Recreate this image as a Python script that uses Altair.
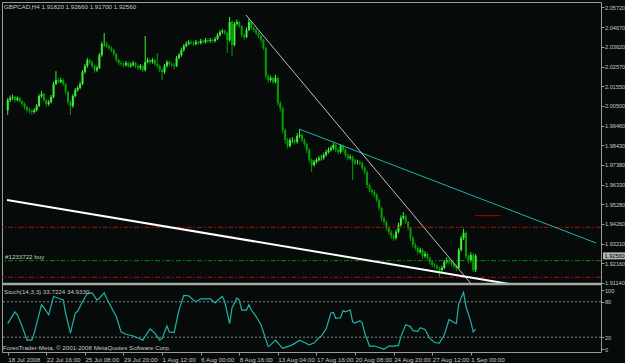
import altair as alt
import pandas as pd

FONT = "Liberation Sans"
FS = 6.2
FS_PRICE = 5.6
BG = "#060a08"
FRAME = "#9a9a9a"
TXT = "#c8c8c8"

# ---------------- data ----------------
opens = [
    2.0028, 2.0081, 2.0092, 2.0097, 2.0081, 2.0092, 2.0076, 2.0060, 2.0044, 2.0028,
    2.0023, 2.0018, 2.0028, 2.0049, 2.0102, 2.0113, 2.0081, 2.0060, 2.0071, 2.0097,
    2.0166, 2.0187, 2.0177, 2.0187, 2.0166, 2.0124, 2.0071, 2.0049, 2.0102, 2.0134,
    2.0145, 2.0166, 2.0229, 2.0261, 2.0293, 2.0282, 2.0261, 2.0240, 2.0251, 2.0319,
    2.0378, 2.0378, 2.0367, 2.0357, 2.0346, 2.0325, 2.0293, 2.0277, 2.0272, 2.0267,
    2.0277, 2.0261, 2.0267, 2.0277, 2.0261, 2.0251, 2.0261, 2.0240, 2.0282, 2.0293,
    2.0282, 2.0293, 2.0272, 2.0261, 2.0240, 2.0229, 2.0261, 2.0282, 2.0272, 2.0267,
    2.0261, 2.0304, 2.0319, 2.0346, 2.0367, 2.0378, 2.0388, 2.0383, 2.0378, 2.0388,
    2.0383, 2.0394, 2.0388, 2.0399, 2.0394, 2.0399, 2.0394, 2.0404, 2.0425, 2.0441,
    2.0446, 2.0436, 2.0399, 2.0494, 2.0372, 2.0484, 2.0494, 2.0473, 2.0425, 2.0415,
    2.0452, 2.0494, 2.0462, 2.0452, 2.0436, 2.0420, 2.0399, 2.0357, 2.0208, 2.0187,
    2.0198, 2.0177, 2.0198, 2.0065, 2.0039, 1.9922, 1.9869, 1.9838, 1.9869, 1.9869,
    1.9859, 1.9891, 1.9896, 1.9869, 1.9848, 1.9817, 1.9764, 1.9737, 1.9753, 1.9764,
    1.9774, 1.9774, 1.9790, 1.9806, 1.9817, 1.9827, 1.9843, 1.9817, 1.9806, 1.9838,
    1.9817, 1.9790, 1.9774, 1.9780, 1.9753, 1.9753, 1.9753, 1.9748, 1.9722, 1.9700,
    1.9631, 1.9605, 1.9594, 1.9579, 1.9552, 1.9510, 1.9457, 1.9436, 1.9404, 1.9383,
    1.9362, 1.9351, 1.9383, 1.9420, 1.9457, 1.9467, 1.9436, 1.9404, 1.9351, 1.9314,
    1.9298, 1.9277, 1.9287, 1.9256, 1.9266, 1.9245, 1.9224, 1.9208, 1.9203, 1.9192,
    1.9181, 1.9192, 1.9224, 1.9234, 1.9224, 1.9213, 1.9203, 1.9192, 1.9287, 1.9351,
    1.9378, 1.9256, 1.9234, 1.9261, 1.9182,
]
highs = [
    2.0092, 2.0105, 2.0110, 2.0104, 2.0100, 2.0098, 2.0082, 2.0068, 2.0050, 2.0040,
    2.0033, 2.0038, 2.0060, 2.0113, 2.0128, 2.0118, 2.0088, 2.0082, 2.0108, 2.0177,
    2.0234, 2.0198, 2.0200, 2.0195, 2.0172, 2.0130, 2.0080, 2.0112, 2.0145, 2.0156,
    2.0178, 2.0240, 2.0272, 2.0304, 2.0300, 2.0290, 2.0268, 2.0262, 2.0330, 2.0390,
    2.0436, 2.0390, 2.0375, 2.0365, 2.0352, 2.0330, 2.0300, 2.0288, 2.0282, 2.0288,
    2.0285, 2.0280, 2.0288, 2.0284, 2.0270, 2.0272, 2.0268, 2.0420, 2.0305, 2.0300,
    2.0304, 2.0300, 2.0330, 2.0268, 2.0248, 2.0272, 2.0292, 2.0290, 2.0280, 2.0276,
    2.0315, 2.0330, 2.0358, 2.0378, 2.0392, 2.0400, 2.0398, 2.0394, 2.0400, 2.0396,
    2.0405, 2.0402, 2.0410, 2.0408, 2.0410, 2.0406, 2.0415, 2.0436, 2.0452, 2.0458,
    2.0455, 2.0442, 2.0521, 2.0505, 2.0495, 2.0508, 2.0500, 2.0478, 2.0432, 2.0465,
    2.0510, 2.0500, 2.0472, 2.0460, 2.0445, 2.0428, 2.0405, 2.0362, 2.0218, 2.0210,
    2.0205, 2.0215, 2.0205, 2.0075, 2.0045, 1.9930, 1.9880, 1.9880, 1.9885, 1.9878,
    1.9905, 1.9925, 1.9905, 1.9878, 1.9855, 1.9825, 1.9772, 1.9765, 1.9775, 1.9786,
    1.9790, 1.9802, 1.9818, 1.9830, 1.9840, 1.9855, 1.9850, 1.9825, 1.9848, 1.9845,
    1.9825, 1.9798, 1.9792, 1.9788, 1.9768, 1.9765, 1.9762, 1.9755, 1.9730, 1.9708,
    1.9640, 1.9615, 1.9605, 1.9588, 1.9560, 1.9518, 1.9465, 1.9445, 1.9412, 1.9392,
    1.9372, 1.9395, 1.9432, 1.9470, 1.9488, 1.9475, 1.9442, 1.9410, 1.9360, 1.9325,
    1.9308, 1.9300, 1.9295, 1.9280, 1.9275, 1.9252, 1.9232, 1.9218, 1.9212, 1.9200,
    1.9205, 1.9235, 1.9248, 1.9245, 1.9232, 1.9222, 1.9210, 1.9298, 1.9362, 1.9399,
    1.9385, 1.9265, 1.9275, 1.9268, 1.9266,
]
lows = [
    2.0002, 2.0070, 2.0081, 2.0070, 2.0074, 2.0065, 2.0049, 2.0030, 2.0016, 2.0010,
    2.0002, 2.0010, 2.0020, 2.0044, 2.0092, 2.0070, 2.0046, 2.0050, 2.0064, 2.0090,
    2.0160, 2.0168, 2.0170, 2.0155, 2.0110, 2.0055, 2.0002, 2.0040, 2.0095, 2.0125,
    2.0138, 2.0160, 2.0220, 2.0252, 2.0270, 2.0250, 2.0225, 2.0230, 2.0245, 2.0310,
    2.0365, 2.0355, 2.0345, 2.0335, 2.0315, 2.0282, 2.0265, 2.0260, 2.0255, 2.0258,
    2.0250, 2.0252, 2.0258, 2.0250, 2.0240, 2.0240, 2.0228, 2.0232, 2.0275, 2.0270,
    2.0274, 2.0262, 2.0250, 2.0228, 2.0187, 2.0220, 2.0252, 2.0262, 2.0255, 2.0245,
    2.0255, 2.0296, 2.0310, 2.0338, 2.0360, 2.0370, 2.0372, 2.0366, 2.0370, 2.0372,
    2.0375, 2.0378, 2.0380, 2.0383, 2.0385, 2.0382, 2.0386, 2.0398, 2.0418, 2.0432,
    2.0425, 2.0330, 2.0390, 2.0314, 2.0365, 2.0475, 2.0462, 2.0412, 2.0400, 2.0408,
    2.0445, 2.0452, 2.0440, 2.0425, 2.0408, 2.0385, 2.0345, 2.0195, 2.0172, 2.0178,
    2.0165, 2.0170, 2.0050, 2.0020, 1.9905, 1.9850, 1.9825, 1.9830, 1.9852, 1.9845,
    1.9850, 1.9880, 1.9858, 1.9835, 1.9800, 1.9750, 1.9700, 1.9728, 1.9745, 1.9755,
    1.9760, 1.9765, 1.9782, 1.9798, 1.9808, 1.9818, 1.9805, 1.9792, 1.9798, 1.9805,
    1.9778, 1.9762, 1.9765, 1.9658, 1.9740, 1.9740, 1.9735, 1.9710, 1.9688, 1.9615,
    1.9592, 1.9580, 1.9565, 1.9540, 1.9495, 1.9440, 1.9420, 1.9390, 1.9368, 1.9345,
    1.9335, 1.9342, 1.9375, 1.9410, 1.9448, 1.9425, 1.9390, 1.9335, 1.9300, 1.9285,
    1.9262, 1.9268, 1.9242, 1.9245, 1.9232, 1.9210, 1.9195, 1.9190, 1.9180, 1.9144,
    1.9172, 1.9185, 1.9215, 1.9212, 1.9200, 1.9190, 1.9175, 1.9185, 1.9280, 1.9340,
    1.9240, 1.9215, 1.9222, 1.9170, 1.9170,
]
closes = [
    2.0081, 2.0092, 2.0097, 2.0081, 2.0092, 2.0076, 2.0060, 2.0044, 2.0028, 2.0023,
    2.0018, 2.0028, 2.0049, 2.0102, 2.0113, 2.0081, 2.0060, 2.0071, 2.0097, 2.0166,
    2.0187, 2.0177, 2.0187, 2.0166, 2.0124, 2.0071, 2.0049, 2.0102, 2.0134, 2.0145,
    2.0166, 2.0229, 2.0261, 2.0293, 2.0282, 2.0261, 2.0240, 2.0251, 2.0319, 2.0378,
    2.0378, 2.0367, 2.0357, 2.0346, 2.0325, 2.0293, 2.0277, 2.0272, 2.0267, 2.0277,
    2.0261, 2.0267, 2.0277, 2.0261, 2.0251, 2.0261, 2.0240, 2.0282, 2.0293, 2.0282,
    2.0293, 2.0272, 2.0261, 2.0240, 2.0229, 2.0261, 2.0282, 2.0272, 2.0267, 2.0261,
    2.0304, 2.0319, 2.0346, 2.0367, 2.0378, 2.0388, 2.0383, 2.0378, 2.0388, 2.0383,
    2.0394, 2.0388, 2.0399, 2.0394, 2.0399, 2.0394, 2.0404, 2.0425, 2.0441, 2.0446,
    2.0436, 2.0399, 2.0494, 2.0372, 2.0484, 2.0494, 2.0473, 2.0425, 2.0415, 2.0452,
    2.0494, 2.0462, 2.0452, 2.0436, 2.0420, 2.0399, 2.0357, 2.0208, 2.0187, 2.0198,
    2.0177, 2.0198, 2.0065, 2.0039, 1.9922, 1.9869, 1.9838, 1.9869, 1.9869, 1.9859,
    1.9891, 1.9896, 1.9869, 1.9848, 1.9817, 1.9764, 1.9737, 1.9753, 1.9764, 1.9774,
    1.9774, 1.9790, 1.9806, 1.9817, 1.9827, 1.9843, 1.9817, 1.9806, 1.9838, 1.9817,
    1.9790, 1.9774, 1.9780, 1.9753, 1.9753, 1.9753, 1.9748, 1.9722, 1.9700, 1.9631,
    1.9605, 1.9594, 1.9579, 1.9552, 1.9510, 1.9457, 1.9436, 1.9404, 1.9383, 1.9362,
    1.9351, 1.9383, 1.9420, 1.9457, 1.9467, 1.9436, 1.9404, 1.9351, 1.9314, 1.9298,
    1.9277, 1.9287, 1.9256, 1.9266, 1.9245, 1.9224, 1.9208, 1.9203, 1.9192, 1.9181,
    1.9192, 1.9224, 1.9234, 1.9224, 1.9213, 1.9203, 1.9192, 1.9287, 1.9351, 1.9378,
    1.9256, 1.9234, 1.9261, 1.9182, 1.9256,
]

price_ticks = [2.0572, 2.0467, 2.0362, 2.0257, 2.0155, 2.0050, 1.9946, 1.9843,
               1.9738, 1.9633, 1.9528, 1.9426, 1.9321, 1.9216, 1.9114]

time_tick_bars = [0, 16, 32, 48, 64, 80, 96, 112, 128, 144, 160, 176, 192]
time_labels = ["18 Jul 2008", "22 Jul 16:00", "25 Jul 08:00", "29 Jul 20:00",
               "1 Aug 12:00", "6 Aug 00:00", "8 Aug 16:00", "13 Aug 04:00",
               "17 Aug 16:00", "20 Aug 08:00", "24 Aug 20:00", "27 Aug 12:00",
               "1 Sep 00:00"]

# order levels (stop / open / target)
red_levels = [1.94073, 1.91426]
green_levels = [1.92305]
red_segment_bars = [193.7, 204.3]
red_segment_price = [1.94687, 1.94687]

# trend lines: (bar, price) endpoints
white_line_bars = [-0.3, 208.0]
white_line_prices = [1.9552, 1.9107]
gray_line_bars = [98.8, 192.5]
gray_line_prices = [2.0531, 1.9102]
cyan_line_bars = [120.8, 243.9]
cyan_line_prices = [1.99277, 1.93242]

bid_price = 1.92560

stoch_bars = [0, 3, 4, 6, 8, 10, 11, 14, 15, 17, 19, 21, 23, 24, 26, 28, 29, 31, 33, 35,
              37, 38, 40, 41, 42, 45, 47, 49, 52, 55, 56, 59, 61, 63, 64, 66, 67, 69, 71, 73,
              75, 77, 78, 80, 82, 84, 86, 88, 89, 90, 92, 93, 95, 96, 97, 99, 100, 101, 103, 105,
              108, 109, 111, 114, 116, 118, 121, 123, 125, 127, 129, 130, 132, 134, 135, 136, 138, 139, 140, 142,
              143, 144, 146, 147, 148, 150, 152, 156, 158, 160, 162, 163, 165, 167, 168, 170, 171, 173, 175, 177,
              179, 181, 183, 185, 186, 187, 189, 190, 192, 193, 194]
stoch_vals = [43, 63, 58, 38, 15, 15, 27, 75, 70, 58, 89, 86, 83, 61, 27, 61, 64, 80, 94, 95,
              83, 86, 95, 86, 78, 55, 29, 25, 22, 17, 15, 34, 27, 15, 18, 39, 29, 28, 66, 91,
              90, 83, 80, 85, 85, 85, 78, 86, 89, 80, 43, 70, 86, 83, 66, 66, 75, 66, 55, 41,
              4, 7, 15, 1, 4, 7, 15, 11, 7, 10, 19, 22, 34, 61, 62, 52, 53, 65, 63, 66,
              46, 44, 48, 44, 27, 5, 5, 0, 5, 5, 6, 21, 41, 38, 31, 30, 36, 33, 18, 11,
              10, 24, 50, 45, 43, 77, 96, 72, 46, 29, 33.7]
stoch_ticks = [0, 20, 80, 100]
stoch_levels = [20, 80]

title_text = "GBPCAD,H4  1.91820 1.92660 1.91700 1.92560"
order_text = "#1233722 buy"
stoch_text = "Stoch(14,3,3) 33.7224 34.9330"
copyright_text = "ForexTrader-Meta, \u00a9 2001-2008 MetaQuotes Software Corp."

# ---------------- layout ----------------
W, H = 599, 350          # one view holding both panes
PRICE_RANGE = [282, 0]   # upper pane (pixels inside the view)
STOCH_RANGE = [347, 288] # lower pane
X_DOMAIN = [-0.3, 243.9]
P_DOMAIN = [1.91071, 2.06001]

xs = alt.Scale(domain=X_DOMAIN, nice=False, zero=False)
ys = alt.Scale(domain=P_DOMAIN, range=PRICE_RANGE, nice=False, zero=False)
ss = alt.Scale(domain=[0, 100], range=STOCH_RANGE, nice=False, zero=False)

label_expr = "[" + ",".join("'" + s + "'" for s in time_labels) + "][round(datum.value/16)]"
x_axis = alt.Axis(values=time_tick_bars, labelExpr=label_expr, labelAlign="left",
                  labelOverlap=False, labelFlush=False, labelBound=False, title=None)
p_axis = alt.Axis(orient="right", values=price_ticks, format=".5f", title=None,
                  labelOverlap=False, labelFlush=False, labelFontSize=FS_PRICE,
                  labelPadding=0.5)
s_axis = alt.Axis(orient="right", values=stoch_ticks, title=None,
                  labelOverlap=False, labelFlush=False, labelFontSize=FS_PRICE,
                  labelPadding=0.5)


def X(field="bar"):
    return alt.X(f"{field}:Q", scale=xs, axis=x_axis)


def PY(field):
    return alt.Y(f"{field}:Q", scale=ys, axis=p_axis)


def SY(field):
    return alt.Y(f"{field}:Q", scale=ss, axis=s_axis)


candles = pd.DataFrame({"bar": list(range(len(closes))), "open": opens,
                        "high": highs, "low": lows, "close": closes})
candles["dir"] = ["up" if c >= o else "down" for o, c in zip(opens, closes)]
cscale = alt.Scale(domain=["up", "down"], range=["#3cf03c", "#00a000"])

wicks = alt.Chart(candles).mark_rule(strokeWidth=1).encode(
    x=X(), y=PY("low"), y2="high:Q",
    color=alt.Color("dir:N", scale=cscale, legend=None))
bodies = alt.Chart(candles).mark_bar(size=2).encode(
    x=X(), y=PY("open"), y2="close:Q",
    color=alt.Color("dir:N", scale=cscale, legend=None))

DASHDOT = [5, 2, 1.5, 2]
red_rules = alt.Chart(pd.DataFrame({"price": red_levels})).mark_rule(
    color="#b01010", strokeWidth=1, strokeDash=DASHDOT).encode(y=PY("price"))
green_rules = alt.Chart(pd.DataFrame({"price": green_levels})).mark_rule(
    color="#0a8a0a", strokeWidth=1, strokeDash=DASHDOT).encode(y=PY("price"))


def seg(bars, prices, color, width):
    d = pd.DataFrame({"bar": bars, "price": prices})
    return alt.Chart(d).mark_line(color=color, strokeWidth=width, clip=True).encode(
        x=X(), y=PY("price"))


red_seg = seg(red_segment_bars, red_segment_price, "#b00000", 1)
white_ln = seg(white_line_bars, white_line_prices, "#ffffff", 2)
gray_ln = seg(gray_line_bars, gray_line_prices, "#c0c0c0", 1)
cyan_ln = seg(cyan_line_bars, cyan_line_prices, "#20b2aa", 1)


def label(text, x, y, color=TXT, size=FS):
    return alt.Chart(pd.DataFrame({"t": [text]})).mark_text(
        align="left", baseline="middle", color=color, font=FONT, fontSize=size).encode(
        x=alt.value(x), y=alt.value(y), text="t:N")


bid_df = pd.DataFrame({"price": [bid_price], "label": [f"{bid_price:.5f}"]})
bid_box = alt.Chart(bid_df).mark_tick(orient="horizontal", size=23, thickness=7,
                                      color="#ffffff").encode(
    x=alt.value(W + 13.5), y=PY("price"))
bid_txt = alt.Chart(bid_df).mark_text(align="left", baseline="middle", color="#000000",
                                      font=FONT, fontSize=FS_PRICE).encode(
    x=alt.value(W + 3.5), y=PY("price"), text="label:N")

sep = alt.Chart(pd.DataFrame({"a": [0]})).mark_rule(color="#a8a8a8", strokeWidth=2.5).encode(
    x=alt.value(0), x2=alt.value(W), y=alt.value(282))

price_pane = alt.layer(
    wicks, bodies, red_rules, green_rules, red_seg, cyan_ln, gray_ln, white_ln,
    bid_box, bid_txt,
)

stoch_df = pd.DataFrame({"bar": stoch_bars, "value": stoch_vals})
stoch_line = alt.Chart(stoch_df).mark_line(color="#20b2aa", strokeWidth=1.2).encode(
    x=X(), y=SY("value"))
lvl = alt.Chart(pd.DataFrame({"lvl": stoch_levels})).mark_rule(
    color="#8a8a8a", strokeWidth=1, strokeDash=[2, 2]).encode(y=SY("lvl"))

stoch_pane = alt.layer(lvl, stoch_line)

texts = alt.layer(
    label(title_text, 2, 5), label(order_text, 3, 255),
    label(stoch_text, 2, 290), label(copyright_text, 1, 345.5), sep,
)

chart = alt.layer(price_pane, stoch_pane, texts).resolve_scale(
    y="independent"
).properties(
    width=W, height=H,
    autosize=alt.AutoSizeParams(type="none"),
    padding={"left": 2, "top": 2, "right": 24, "bottom": 11},
    background=BG,
).configure_view(
    stroke=FRAME, strokeWidth=1, fill=BG
).configure_axis(
    labelFont=FONT, labelFontSize=FS, labelColor=TXT, tickColor=FRAME,
    tickSize=3, labelPadding=1.5, domain=False, grid=False,
)

chart.save("out.html", embed_options={"renderer": "svg", "actions": False})
